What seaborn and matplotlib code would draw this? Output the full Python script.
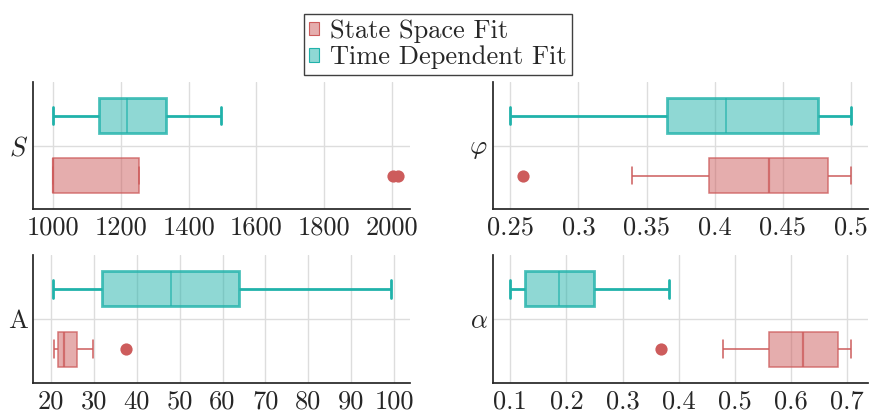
import matplotlib
matplotlib.use("Agg")
import matplotlib.pyplot as plt
from matplotlib.colors import to_rgba
from matplotlib.patches import Patch
from matplotlib.ticker import FuncFormatter, MultipleLocator
import pandas as pd
import seaborn as sns

# Fit methods (drawing order: first level sits on top of each panel)
fit_order = ["Time Dependent Fit", "State Space Fit"]
legend_order = ["State Space Fit", "Time Dependent Fit"]
fit_colors = {"State Space Fit": "#CD5C5C", "Time Dependent Fit": "#20B2AA"}

# Parameter labels shown on the category axis
param_labels = ["$S$", r"$\varphi$", "A", r"$\alpha$"]

# Estimated parameter values for each fit method
s_state = [1000, 1000, 1000, 1000, 1000, 1100, 1254, 2005, 2020]
s_time = [1000, 1135, 1219, 1334, 1496]

phi_state = [0.259, 0.339, 0.396, 0.42, 0.440, 0.46, 0.4835, 0.49, 0.5]
phi_time = [0.25, 0.365, 0.408, 0.476, 0.5]

a_state = [20.7, 21.2, 21.55, 22.3, 23.1, 24.5, 26.2, 29.9, 37.4]
a_time = [20.4, 31.8, 48.1, 63.9, 99.2]

alpha_state = [0.369, 0.478, 0.560, 0.59, 0.622, 0.65, 0.683, 0.69, 0.707]
alpha_time = [0.1, 0.127, 0.187, 0.249, 0.383]

# Axis tick spacing per parameter
tick_steps = [200, 0.05, 10, 0.1]

sns.set_theme(style="whitegrid")
plt.rcParams.update({
    "font.family": ["cmr10", "DejaVu Serif"],
    "mathtext.fontset": "cm",
    "axes.formatter.use_mathtext": True,
    "axes.unicode_minus": False,
    "font.size": 19,
    "axes.edgecolor": "0.15",
    "axes.linewidth": 1.25,
    "grid.color": "#dddddd",
    "grid.linewidth": 1.0,
})

fig = plt.figure(figsize=(8.69, 4.12), dpi=100)
W, H = 869, 412


def rect(left, top, right, bottom):
    return [left / W, 1 - bottom / H, (right - left) / W, (bottom - top) / H]


axes = [
    fig.add_axes(rect(33.3, 82, 410, 209.3)),
    fig.add_axes(rect(493.3, 82, 868, 209.3)),
    fig.add_axes(rect(33.3, 255, 410, 383)),
    fig.add_axes(rect(493.3, 255, 868, 383)),
]

panel_data = [
    (s_state, s_time, (941, 2054)),
    (phi_state, phi_time, (0.2375, 0.5125)),
    (a_state, a_time, (15.9, 103.7)),
    (alpha_state, alpha_time, (0.0697, 0.737)),
]

line_widths = {"Time Dependent Fit": (2.0, 1.1), "State Space Fit": (1.1, 1.6)}

for ax, label, (state_vals, time_vals, xlim), step in zip(axes, param_labels, panel_data, tick_steps):
    df = pd.DataFrame({
        "param": [label] * (len(state_vals) + len(time_vals)),
        "value": list(state_vals) + list(time_vals),
        "fit": ["State Space Fit"] * len(state_vals) + ["Time Dependent Fit"] * len(time_vals),
    })
    for fit in fit_order:
        col = fit_colors[fit]
        lw, med_lw = line_widths[fit]
        sns.boxplot(
            data=df[df["fit"] == fit], x="value", y="param", hue="fit",
            hue_order=fit_order, palette=fit_colors, dodge=True,
            width=0.944, gap=0.42, saturation=1, linewidth=lw, linecolor=col,
            flierprops=dict(marker="o", markerfacecolor=col, markeredgecolor=col,
                            markeredgewidth=0, markersize=8.8),
            medianprops=dict(linewidth=med_lw, color=to_rgba(col, 0.8)),
            legend=False, ax=ax,
        )
    for patch in ax.patches:
        face = patch.get_facecolor()
        patch.set_facecolor((face[0], face[1], face[2], 0.5))
        edge = patch.get_edgecolor()
        patch.set_edgecolor((edge[0], edge[1], edge[2], 0.8))

    ax.set_xlim(*xlim)
    ax.set_ylim(0.5, -0.5)
    ax.xaxis.set_major_locator(MultipleLocator(step))
    ax.xaxis.set_major_formatter(FuncFormatter(lambda v, p: f"{v:g}"))
    ax.xaxis.grid(True)
    ax.yaxis.grid(True)
    ax.set_axisbelow(True)
    ax.set_xlabel("")
    ax.set_ylabel("")
    ax.tick_params(axis="both", length=0, labelsize=19)
    ax.tick_params(axis="x", pad=5)
    ax.tick_params(axis="y", pad=4)
    sns.despine(ax=ax)

handles = [
    Patch(facecolor=to_rgba(fit_colors[f], 0.5), edgecolor=fit_colors[f], linewidth=0.8, label=f)
    for f in legend_order
]
fig.legend(
    handles=handles, loc="upper center", bbox_to_anchor=(0.5037, 0.966),
    ncol=1, fontsize=19, frameon=True, fancybox=False, edgecolor="0.25",
    framealpha=1, handlelength=0.4, handleheight=0.4, handletextpad=0.4,
    borderpad=0.2, labelspacing=0.1, borderaxespad=0,
).get_frame().set_linewidth(1.0)

fig.savefig("out.png", dpi=100)
